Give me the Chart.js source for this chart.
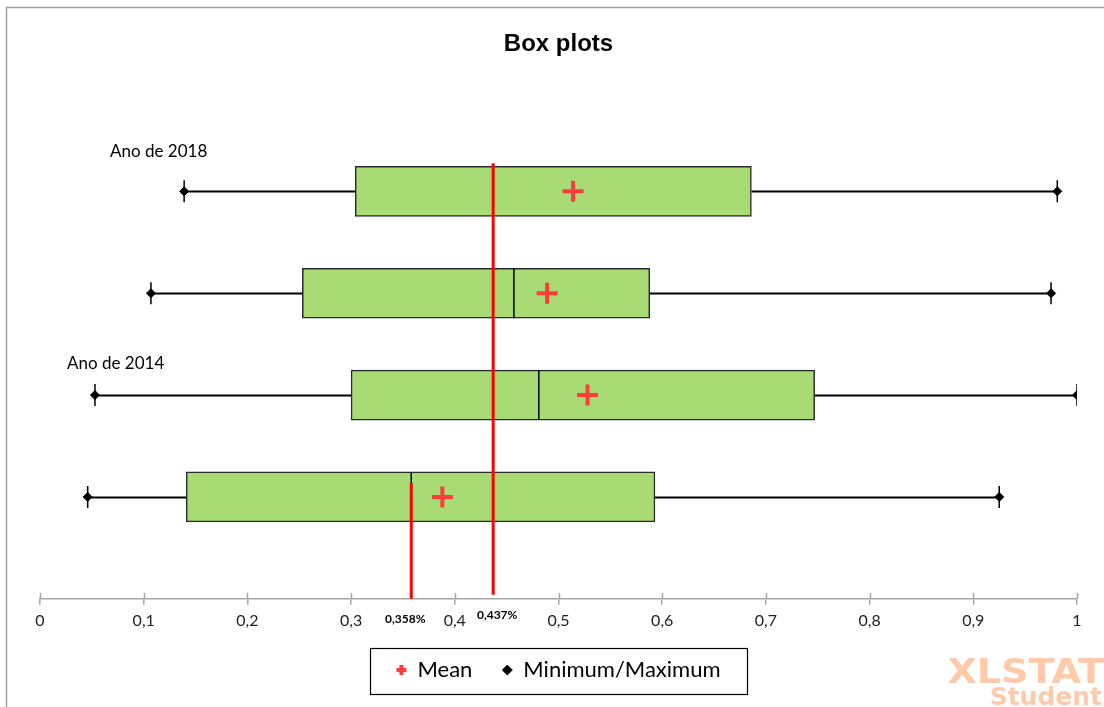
<!DOCTYPE html>
<html>
<head>
<meta charset="utf-8">
<title>Box plots</title>
<script src="https://cdn.jsdelivr.net/npm/chart.js@4/dist/chart.umd.min.js"></script>
<style>
  html, body { margin: 0; padding: 0; background: #ffffff; }
  canvas { display: block; }
</style>
</head>
<body>
<canvas id="chart" width="1104" height="707"></canvas>
<script>
// Five-number summaries for the four groups, listed from top to bottom
const groups   = ['Ano de 2018', '', 'Ano de 2014', ''];
const minimums = [0.139, 0.107, 0.053, 0.046];
const q1s      = [0.304, 0.253, 0.300, 0.141];
const medians  = [0.437, 0.457, 0.481, 0.358];
const q3s      = [0.686, 0.588, 0.747, 0.593];
const maximums = [0.981, 0.975, 1.000, 0.925];
const means    = [0.514, 0.489, 0.528, 0.388];
// Reference lines marked on the axis
const refValues = [0.358, 0.437];
// Axis ticks
const xTicks = [0, 0.1, 0.2, 0.3, 0.4, 0.5, 0.6, 0.7, 0.8, 0.9, 1];

const fmt = v => String(Math.round(v * 1000) / 1000).replace('.', ',');
const rowOf = i => i + 1;

const BLACK = '#000000';
const RED = '#FF3C3C';
const AXIS = '#A6A6A6';
const BODY_FONT = 'Lato, "Open Sans", sans-serif';

// Page frame, whiskers, reference lines, labels and the watermark
const decorations = {
  id: 'decorations',
  beforeDraw(chart) {
    const ctx = chart.ctx;
    ctx.save();
    ctx.fillStyle = '#ffffff';
    ctx.fillRect(0, 0, chart.width, chart.height);
    ctx.strokeStyle = '#A0A0A0';
    ctx.lineWidth = 1.5;
    ctx.beginPath();
    ctx.moveTo(6.5, chart.height);
    ctx.lineTo(6.5, 7.5);
    ctx.lineTo(chart.width, 7.5);
    ctx.stroke();
    ctx.restore();
  },
  beforeDatasetsDraw(chart) {
    const ctx = chart.ctx;
    const x = chart.scales.x, y = chart.scales.y;
    ctx.save();
    ctx.strokeStyle = BLACK;
    ctx.lineWidth = 1.8;
    groups.forEach((g, i) => {
      const py = Math.round(y.getPixelForValue(rowOf(i))) + 0.5;
      ctx.beginPath();
      ctx.moveTo(x.getPixelForValue(minimums[i]), py);
      ctx.lineTo(x.getPixelForValue(q1s[i]), py);
      ctx.moveTo(x.getPixelForValue(q3s[i]), py);
      ctx.lineTo(x.getPixelForValue(maximums[i]), py);
      ctx.stroke();
    });
    ctx.restore();
  },
  afterDatasetsDraw(chart) {
    const ctx = chart.ctx;
    const x = chart.scales.x, y = chart.scales.y;
    const area = chart.chartArea;
    ctx.save();
    // red reference lines: the first starts inside the lowest box, the second just above the top box
    const tops = [y.getPixelForValue(rowOf(3)) - 14, y.getPixelForValue(rowOf(0)) - 28];
    const bottoms = [area.bottom, area.bottom - 4];
    ctx.strokeStyle = '#FF0000';
    ctx.lineWidth = 3;
    refValues.forEach((v, k) => {
      const px = x.getPixelForValue(v);
      ctx.beginPath();
      ctx.moveTo(px, tops[k]);
      ctx.lineTo(px, bottoms[k]);
      ctx.stroke();
    });
    // value labels for the reference lines
    ctx.fillStyle = '#000000';
    ctx.font = 'bold 12px ' + BODY_FONT;
    ctx.textAlign = 'center';
    ctx.textBaseline = 'middle';
    const dx = [-6, 4], dy = [20, 16];
    refValues.forEach((v, k) => {
      ctx.fillText(fmt(v) + '%', x.getPixelForValue(v) + dx[k], area.bottom + dy[k]);
    });
    // group captions
    ctx.font = '17px ' + BODY_FONT;
    ctx.textAlign = 'left';
    const capX = [110, 0, 67, 0], capDy = [-40, 0, -32, 0];
    groups.forEach((g, i) => {
      if (!g) return;
      ctx.fillText(g, capX[i], y.getPixelForValue(rowOf(i)) + capDy[i]);
    });
    ctx.restore();
  },
  afterDraw(chart) {
    const ctx = chart.ctx;
    const x = chart.scales.x;
    const area = chart.chartArea;
    ctx.save();
    // ticks cross the axis line: draw the part above it
    ctx.strokeStyle = AXIS;
    ctx.lineWidth = 1.5;
    xTicks.forEach(t => {
      const px = Math.round(x.getPixelForValue(t)) + 0.5;
      ctx.beginPath();
      ctx.moveTo(px, area.bottom);
      ctx.lineTo(px, area.bottom - 6);
      ctx.stroke();
    });
    // frame around the legend
    const boxes = chart.legend.legendHitBoxes;
    if (boxes && boxes.length) {
      const left = Math.min(...boxes.map(b => b.left));
      const right = Math.max(...boxes.map(b => b.left + b.width));
      const top = Math.min(...boxes.map(b => b.top));
      const h = boxes[0].height;
      ctx.strokeStyle = '#000000';
      ctx.lineWidth = 1.2;
      ctx.strokeRect(Math.round(left - 26) + 0.5, Math.round(top - 11) + 0.5,
                     Math.round(right - left + 53), Math.round(h + 24));
    }
    // watermark
    ctx.fillStyle = '#FFCAAA';
    ctx.textAlign = 'right';
    ctx.textBaseline = 'alphabetic';
    ctx.save();
    ctx.translate(1104, 683);
    ctx.scale(1.12, 1);
    ctx.font = 'bold 34px "DejaVu Sans", sans-serif';
    ctx.fillText('XLSTAT', 0, 0);
    ctx.restore();
    ctx.font = 'bold 25px "DejaVu Sans", sans-serif';
    ctx.fillText('Student', 1102, 705);
    ctx.restore();
  }
};

const rows = groups.map((g, i) => rowOf(i));

new Chart(document.getElementById('chart'), {
  data: {
    datasets: [
      {
        type: 'bar',
        label: 'Box',
        indexAxis: 'y',
        data: rows.map((r, i) => ({ x: [q1s[i], q3s[i]], y: r })),
        backgroundColor: '#A9DB75',
        borderColor: '#2A2A2A',
        borderWidth: 1.5,
        borderSkipped: false,
        barThickness: 50,
        order: 6
      },
      {
        type: 'scatter',
        label: 'Median',
        data: rows.map((r, i) => ({ x: medians[i], y: r })),
        pointStyle: 'line',
        pointRotation: 90,
        pointRadius: 25,
        pointBorderWidth: 1.5,
        pointBorderColor: BLACK,
        order: 5
      },
      {
        type: 'scatter',
        label: 'Mean',
        data: rows.map((r, i) => ({ x: means[i], y: r })),
        pointStyle: 'cross',
        pointRadius: 10.5,
        pointBorderWidth: 4,
        pointBorderColor: RED,
        pointBackgroundColor: RED,
        order: 1
      },
      {
        type: 'scatter',
        label: 'Minimum/Maximum',
        data: rows.map((r, i) => ({ x: minimums[i], y: r }))
          .concat(rows.map((r, i) => ({ x: maximums[i], y: r }))),
        pointStyle: 'rectRot',
        pointRadius: 4.5,
        pointBorderWidth: 1,
        pointBorderColor: BLACK,
        pointBackgroundColor: BLACK,
        order: 2
      },
      {
        type: 'scatter',
        label: 'Whisker end',
        data: rows.map((r, i) => ({ x: minimums[i], y: r }))
          .concat(rows.map((r, i) => ({ x: maximums[i], y: r }))),
        pointStyle: 'line',
        pointRotation: 90,
        pointRadius: 11,
        pointBorderWidth: 1.5,
        pointBorderColor: BLACK,
        order: 3
      }
    ]
  },
  options: {
    responsive: false,
    animation: false,
    events: [],
    layout: { padding: { left: 40, right: 27, top: 0, bottom: 16 } },
    plugins: {
      title: {
        display: true,
        text: 'Box plots',
        color: '#000000',
        font: { family: '"Liberation Sans", Arial, sans-serif', size: 24, weight: 'bold' },
        padding: { top: 30, bottom: 30.7 }
      },
      legend: {
        position: 'bottom',
        labels: {
          usePointStyle: true,
          boxWidth: 10,
          boxHeight: 7,
          padding: 30,
          color: '#000000',
          font: { family: BODY_FONT, size: 22 },
          filter: item => item.text === 'Mean' || item.text === 'Minimum/Maximum'
        }
      },
      tooltip: { enabled: false }
    },
    scales: {
      x: {
        type: 'linear',
        min: 0,
        max: 1,
        clip: false,
        afterBuildTicks: scale => { scale.ticks = xTicks.map(v => ({ value: v })); },
        afterFit: scale => { scale.height -= 7; },
        ticks: {
          callback: v => fmt(v),
          color: '#222222',
          font: { family: BODY_FONT, size: 16 },
          padding: 6,
          maxRotation: 0
        },
        grid: { drawOnChartArea: false, color: AXIS, lineWidth: 1.5, tickLength: 6 },
        border: { color: AXIS, width: 1.5 }
      },
      y: {
        type: 'linear',
        min: 0,
        max: 5,
        offset: false,
        reverse: true,
        display: false
      }
    }
  },
  plugins: [decorations]
});
</script>
</body>
</html>
